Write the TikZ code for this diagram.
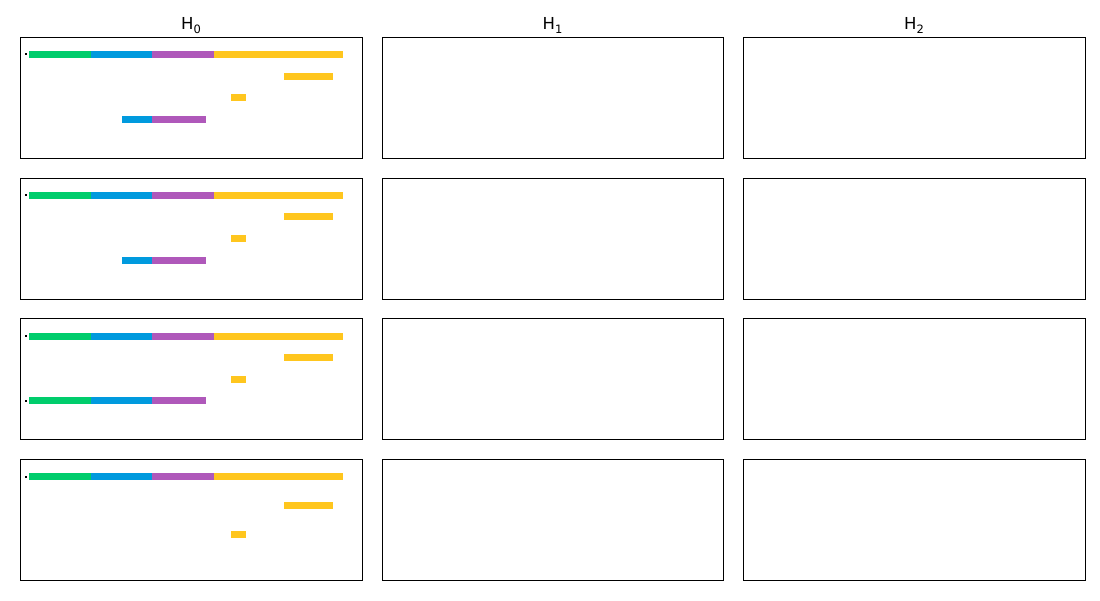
\documentclass[tikz,border=0pt]{standalone}
\usepackage{fontspec}
\setmainfont{DejaVu Sans}
\definecolor{cgreen}{HTML}{00CD6C}
\definecolor{cblue}{HTML}{009ADE}
\definecolor{cpurple}{HTML}{AF58BA}
\definecolor{cyellow}{HTML}{FFC61E}
\newcommand{\hsub}[1]{H\raisebox{-0.28em}{\fontsize{11.5}{12}\selectfont #1}}
\begin{document}
\begin{tikzpicture}[x=1pt,y=-1pt,
  frame/.style={draw=black,line width=0.95pt},
  ttl/.style={font=\fontsize{16.5}{18}\selectfont,inner sep=0pt,anchor=base},
  pt/.style={fill=black}]
\useasboundingbox[fill=white] (0,0) rectangle (1100,600);
% titles
\node[ttl] (t0) at (191,29) {\hsub{0}};
\node[ttl] (t1) at (552.5,29) {\hsub{1}};
\node[ttl] (t2) at (914,29) {\hsub{2}};
% bar helpers
\newcommand{\fullbar}[1]{%
  \fill[cgreen] (29,#1-3.4) rectangle (91,#1+3.4);
  \fill[cblue] (91,#1-3.4) rectangle (151.7,#1+3.4);
  \fill[cpurple] (151.7,#1-3.4) rectangle (214,#1+3.4);
  \fill[cyellow] (214,#1-3.4) rectangle (343,#1+3.4);
  \fill[pt] (24.5,#1-1) rectangle (26.5,#1+1);}
\newcommand{\ybarA}[1]{\fill[cyellow] (284,#1-3.4) rectangle (333,#1+3.4);}
\newcommand{\ybarB}[1]{\fill[cyellow] (231,#1-3.4) rectangle (246,#1+3.4);}
\newcommand{\bpbar}[1]{%
  \fill[cblue] (122,#1-3.4) rectangle (151.7,#1+3.4);
  \fill[cpurple] (151.7,#1-3.4) rectangle (206,#1+3.4);}
\newcommand{\gbpbar}[1]{%
  \fill[cgreen] (29,#1-3.4) rectangle (91,#1+3.4);
  \fill[cblue] (91,#1-3.4) rectangle (151.7,#1+3.4);
  \fill[cpurple] (151.7,#1-3.4) rectangle (206,#1+3.4);
  \fill[pt] (24.5,#1-1) rectangle (26.5,#1+1);}
% row 1
\fullbar{54.3}\ybarA{76.3}\ybarB{97.8}\bpbar{119.5}
% row 2
\fullbar{195.3}\ybarA{216.5}\ybarB{238.5}\bpbar{260.3}
% row 3
\fullbar{336.4}\ybarA{357.5}\ybarB{379.5}\gbpbar{400.5}
% row 4
\fullbar{476.5}\ybarA{505.5}\ybarB{534.5}
% frames
\foreach \yt/\yb in {37/158,178/299,318/439,459/580}{
  \draw[frame] (20.5,\yt) rectangle (362.5,\yb);
  \draw[frame] (382.5,\yt) rectangle (723.5,\yb);
  \draw[frame] (743.5,\yt) rectangle (1085.5,\yb);
}
\end{tikzpicture}
\end{document}
